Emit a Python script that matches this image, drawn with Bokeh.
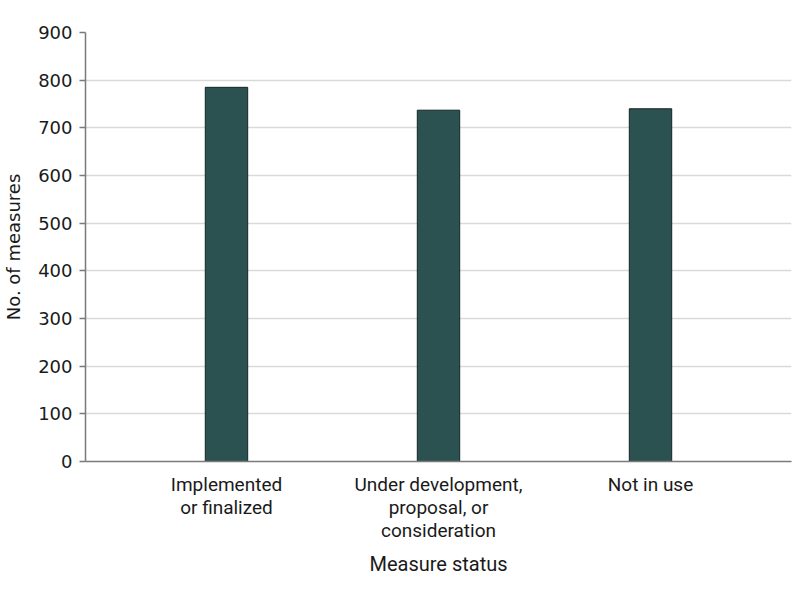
from bokeh.plotting import figure
from bokeh.models import Range1d, FixedTicker, ColumnDataSource
from bokeh.embed import file_html
from bokeh.resources import INLINE

categories = ["Implemented\nor finalized", "Under development,\nproposal, or\nconsideration", "Not in use"]
positions = [1, 2, 3]
counts = [785, 737, 740]
y_ticks = [0, 100, 200, 300, 400, 500, 600, 700, 800, 900]

src = ColumnDataSource(data=dict(x=positions, top=counts))

p = figure(frame_width=706, frame_height=429, output_backend="svg", toolbar_location=None,
           x_range=Range1d(0.335, 3.665), y_range=Range1d(0, 900),
           min_border_left=60, min_border_right=4, min_border_top=32, min_border_bottom=112)
p.outline_line_color = None
p.background_fill_color = "white"

p.vbar(x="x", top="top", width=0.2, bottom=0, source=src,
       fill_color="#2b5251", line_color="#142424", line_width=1)

p.xgrid.visible = False
p.ygrid.grid_line_color = "#d9d9d9"
p.ygrid.grid_line_width = 1.5
p.ygrid.ticker = FixedTicker(ticks=y_ticks)

p.yaxis.ticker = FixedTicker(ticks=y_ticks)
p.yaxis.axis_label = "No. of measures"
p.yaxis.axis_label_text_font = "DejaVu Sans"
p.yaxis.axis_label_text_font_size = "18px"
p.yaxis.axis_label_text_font_style = "normal"
p.yaxis.axis_label_text_color = "#1a1a1a"
p.yaxis.axis_label_standoff = 11
p.yaxis.major_label_text_font = "DejaVu Sans"
p.yaxis.major_label_text_font_size = "18px"
p.yaxis.major_label_text_color = "#1a1a1a"
p.yaxis.major_label_standoff = 7
p.yaxis.major_tick_out = 6
p.yaxis.major_tick_in = 0
p.yaxis.minor_tick_line_color = None
p.yaxis.axis_line_color = "#7a7a7a"
p.yaxis.axis_line_width = 1.5
p.yaxis.major_tick_line_color = "#7a7a7a"
p.yaxis.major_tick_line_width = 1.5

p.xaxis.ticker = FixedTicker(ticks=positions)
p.xaxis.major_label_overrides = {pos: lab for pos, lab in zip(positions, categories)}
p.xaxis.axis_label = "Measure status"
p.xaxis.axis_label_text_font = "Roboto"
p.xaxis.axis_label_text_font_size = "20px"
p.xaxis.axis_label_text_font_style = "normal"
p.xaxis.axis_label_text_color = "#1a1a1a"
p.xaxis.axis_label_standoff = 7
p.xaxis.major_label_text_font = "Roboto"
p.xaxis.major_label_text_font_size = "19px"
p.xaxis.major_label_text_line_height = 1.0
p.xaxis.major_label_text_color = "#1a1a1a"
p.xaxis.major_label_standoff = 5
p.xaxis.major_tick_line_color = None
p.xaxis.minor_tick_line_color = None
p.xaxis.axis_line_color = "#7a7a7a"
p.xaxis.axis_line_width = 1.5

open("out.html", "w").write(file_html(p, INLINE))
